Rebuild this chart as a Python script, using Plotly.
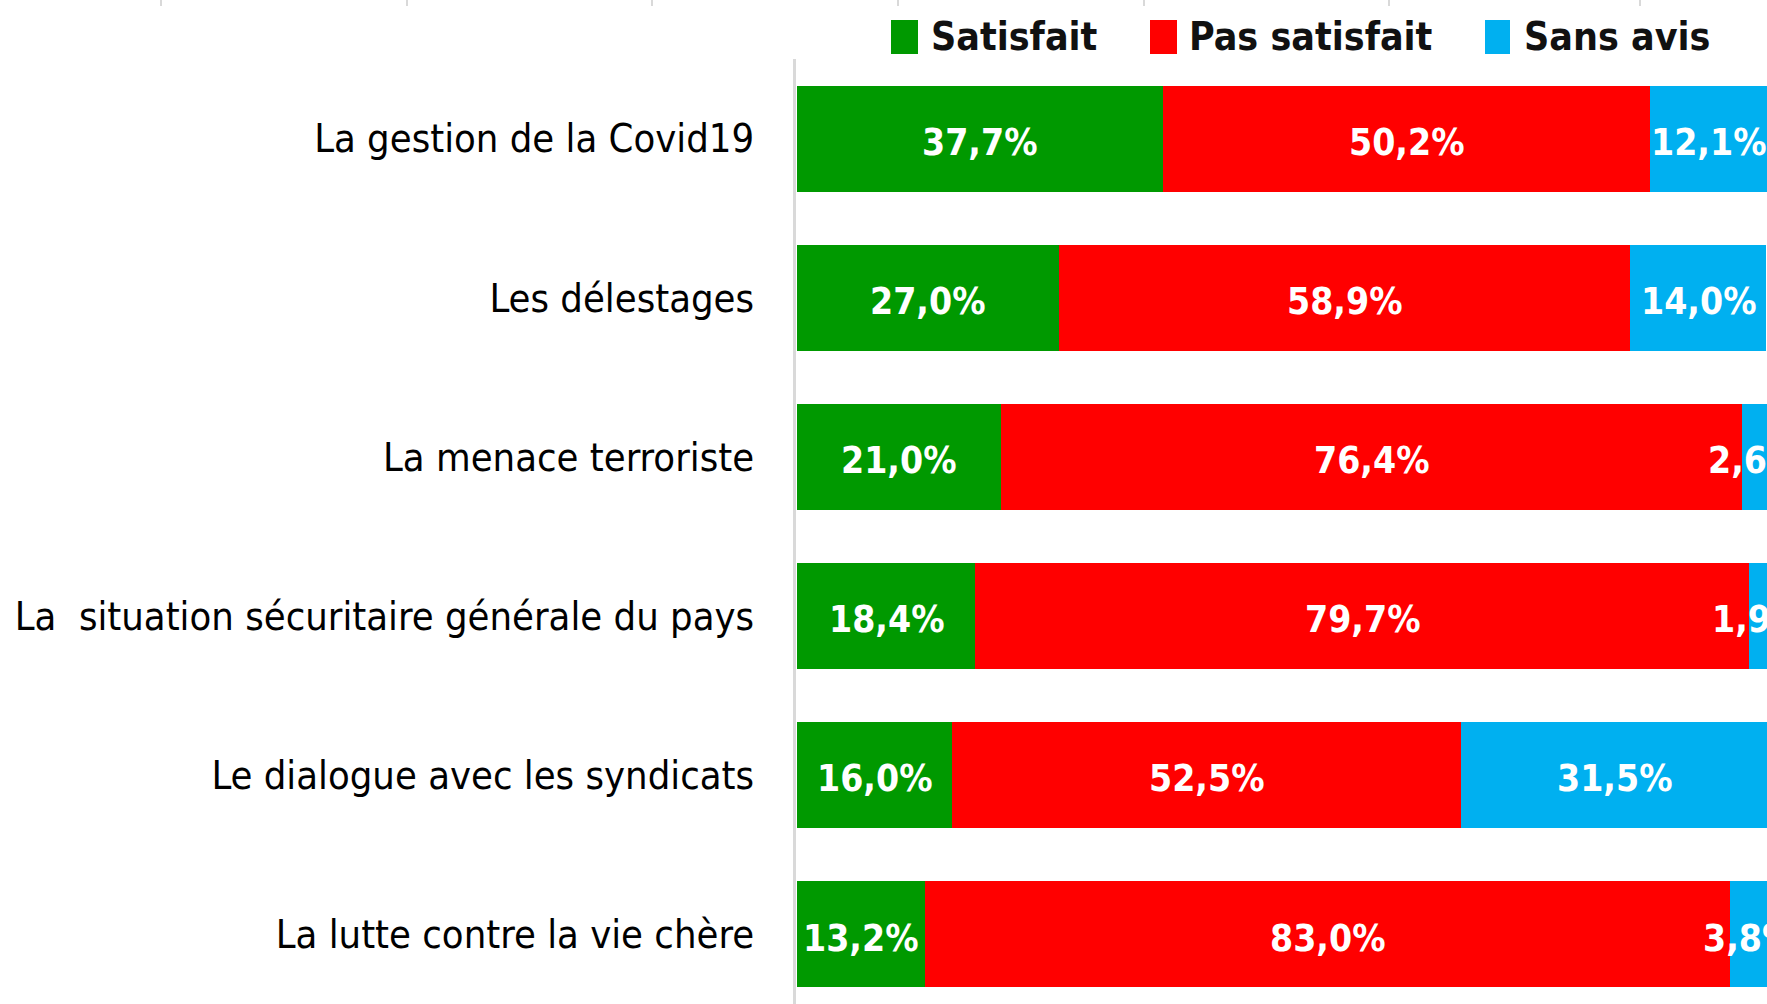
import plotly.graph_objects as go

categories = [
    "La gestion de la Covid19",
    "Les délestages",
    "La menace terroriste",
    "La  situation sécuritaire générale du pays",
    "Le dialogue avec les syndicats",
    "La lutte contre la vie chère",
]
satisfait = [37.7, 27.0, 21.0, 18.4, 16.0, 13.2]
pas_satisfait = [50.2, 58.9, 76.4, 79.7, 52.5, 83.0]
sans_avis = [12.1, 14.0, 2.6, 1.9, 31.5, 3.8]
series_names = ["Satisfait", "Pas satisfait", "Sans avis"]
colors = ["#009900", "#FF0000", "#00B0F0"]

W, H = 1767, 1004
ML, MT = 796, 59
PW, PH = W - ML, H - MT

FONT = "Liberation Sans Narrow, Arial Narrow, DejaVu Sans Condensed, sans-serif"

def fmt(v):
    return f"{v:.1f}".replace(".", ",") + "%"

fig = go.Figure()
series = [satisfait, pas_satisfait, sans_avis]
for name, vals, col in zip(series_names, series, colors):
    fig.add_trace(go.Bar(
        y=categories, x=vals, name=name, orientation="h",
        marker=dict(color=col, line=dict(width=0)),
        showlegend=False, hoverinfo="x+y",
    ))

annotations = []
# data labels centered in each segment
base = [0.0] * len(categories)
for vals in series:
    for cat, b, v in zip(categories, base, vals):
        annotations.append(dict(
            xref="x", yref="y", x=b + v / 2, y=cat, text=fmt(v),
            showarrow=False, xanchor="center", yanchor="middle", yshift=-4,
            font=dict(family=FONT, size=37, color="white", weight="bold"),
        ))
    base = [b + v for b, v in zip(base, vals)]

def px_x(p):
    return (p - ML) / PW

def px_y(q):
    return (H - q) / PH

shapes = []
# custom legend
legend_sq = [(891, 918), (1150, 1177), (1485, 1510)]
legend_tx = [929, 1187, 1522]
for (x0, x1), tx, name, col in zip(legend_sq, legend_tx, series_names, colors):
    shapes.append(dict(type="rect", xref="paper", yref="paper",
                       x0=px_x(x0), x1=px_x(x1), y0=px_y(54), y1=px_y(20),
                       fillcolor=col, line=dict(width=0)))
    annotations.append(dict(xref="paper", yref="paper", x=px_x(tx), y=px_y(37),
                            xanchor="left", yanchor="middle", showarrow=False,
                            text=name,
                            font=dict(family=FONT, size=39, color="#111111", weight="bold")))

# faint gridline stubs at the top edge (remnants of the chart above)
for p in [161, 407, 652, 898, 1144, 1389, 1640]:
    shapes.append(dict(type="line", xref="paper", yref="paper",
                       x0=px_x(p), x1=px_x(p), y0=px_y(0), y1=px_y(6),
                       line=dict(color="#D9D9D9", width=2)))

fig.update_layout(
    width=W, height=H,
    margin=dict(l=ML, r=0, t=MT, b=0, pad=0, autoexpand=False),
    barmode="stack", bargap=0.334,
    plot_bgcolor="white", paper_bgcolor="white",
    shapes=shapes, annotations=annotations,
    xaxis=dict(range=[-0.1, 100], showgrid=False, zeroline=False,
               showticklabels=False, showline=False, fixedrange=True,
               automargin=False),
    yaxis=dict(range=[5.44, -0.5], autorange=False, showgrid=False,
               showline=True, linecolor="#D9D9D9", linewidth=3,
               ticks="", ticklabelstandoff=31, automargin=False,
               tickfont=dict(family=FONT, size=39.6, color="#000000")),
)

fig.write_html(
    "out.html",
    config={"displayModeBar": False},
    post_script="document.body.style.margin='0px';document.body.style.overflow='hidden';",
)
